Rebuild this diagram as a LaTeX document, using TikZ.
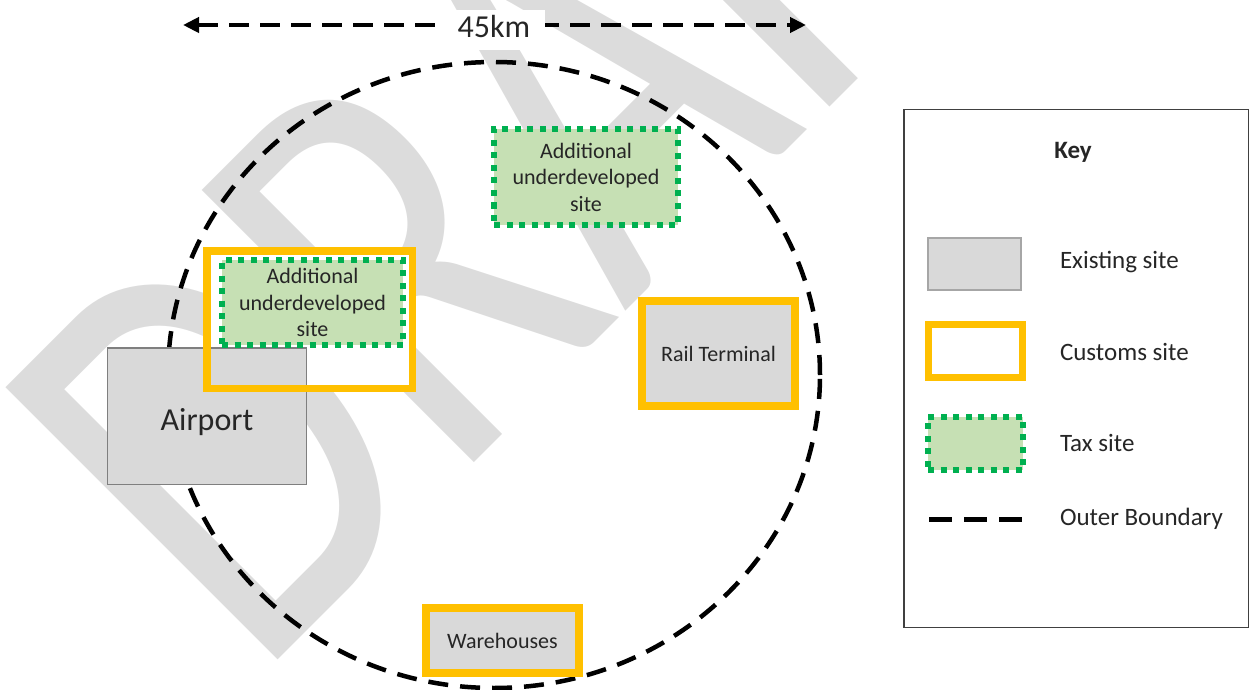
\documentclass[tikz,border=0pt]{standalone}
\usepackage{fontspec}
\setmainfont{Carlito}
\newfontfamily\wmfont{Carlito}
\usetikzlibrary{arrows.meta}
\definecolor{cOrange}{HTML}{FFC000}
\definecolor{cGreen}{HTML}{00B050}
\definecolor{cGreenFill}{HTML}{C6E0B4}
\definecolor{cGray}{HTML}{D9D9D9}
\definecolor{cGrayLine}{HTML}{7F7F7F}
\definecolor{cWM}{HTML}{DCDCDC}
\definecolor{cText}{HTML}{262626}
\begin{document}
\begin{tikzpicture}[x=1pt,y=-1pt,
  every node/.style={inner sep=0pt, outer sep=0pt, text=cText},
  lbl/.style={font=\fontsize{22}{26.5}\selectfont, align=center},
  keytext/.style={font=\fontsize{25}{30}\selectfont, anchor=base west},
  existing/.style={rectangle, draw=cGrayLine, line width=1.5pt, fill=cGray},
  customs/.style={rectangle, draw=cOrange, line width=8pt},
  taxbox/.style={rectangle, draw=cGreen, fill=cGreenFill, line width=6pt, dash pattern=on 6pt off 6.5pt},
  boundary/.style={line width=4.5pt, dash pattern=on 20pt off 12pt}
]
\useasboundingbox (0,0) rectangle (1251,690);
\clip (0,0) rectangle (1251,690);
% watermark
\node[font=\wmfont\fontsize{600}{600}\selectfont, text=cWM, anchor=base west, rotate=45, xscale=0.75] (draft) at (256,681) {DRAFT};
% distance arrow
\coordinate (aL) at (183,25);
\coordinate (aR) at (806,25);
\draw[line width=4pt, dash pattern=on 20pt off 11pt, {Triangle[length=16pt,width=15pt]}-{Triangle[length=16pt,width=15pt]}] (aL) -- (aR);
\node[fill=white, minimum width=102pt, minimum height=40pt, font=\fontsize{32}{38}\selectfont, text height=16pt, text depth=0pt] (dist) at (494,30) {45km};
% outer boundary
\draw[boundary] (494,375) ellipse [x radius=326pt, y radius=313pt];
% customs site with tax site, airport
\node[customs, fill=white, line width=7.5pt, minimum width=205.5pt, minimum height=137.5pt] (cust1) at (309.5,319.5) {};
\node[existing, minimum width=199pt, minimum height=136.5pt, font=\fontsize{32}{38}\selectfont, text height=28pt, text depth=0pt] (airport) at (207,416) {Airport};
\draw[draw=cOrange, line width=7.5pt] (cust1.north west) rectangle (cust1.south east);
\node[taxbox, lbl, minimum width=181pt, minimum height=85pt] (tax2) at (312.5,302.5) {Additional\\underdeveloped\\site};
% top tax site
\node[taxbox, lbl, minimum width=184pt, minimum height=96pt] (tax1) at (586,177) {Additional\\underdeveloped\\site};
% rail terminal, warehouses
\node[existing, draw=cOrange, line width=8pt, minimum width=153pt, minimum height=105pt, lbl] (rail) at (718.5,353.5) {Rail Terminal};
\node[existing, draw=cOrange, line width=8pt, minimum width=153pt, minimum height=65pt, lbl] (wh) at (502.5,640.5) {Warehouses};
% key
\node[draw=black!75, line width=1.5pt, minimum width=344.5pt, minimum height=517.5pt] (key) at (1076,368.5) {};
\node[font=\bfseries\fontsize{25}{30}\selectfont] (keytitle) at (1073,152) {Key};
\node[existing, draw=black!35, line width=2pt, minimum width=93pt, minimum height=52pt] (lgE) at (974.5,264) {};
\node[customs, fill=white, line width=7pt, minimum width=94pt, minimum height=52.6pt] (lgC) at (975.3,350.8) {};
\node[taxbox, minimum width=95pt, minimum height=53.5pt] (lgT) at (975.5,443.7) {};
\coordinate (lgB1) at (929,519);
\coordinate (lgB2) at (1022,519);
\draw[line width=5pt, dash pattern=on 23pt off 12pt] (lgB1) -- (lgB2);
\node[keytext] (tE) at (1060,268) {Existing site};
\node[keytext] (tC) at (1060,360) {Customs site};
\node[keytext] (tT) at (1060,451) {Tax site};
\node[keytext] (tB) at (1060,525.5) {Outer Boundary};
\end{tikzpicture}
\end{document}
